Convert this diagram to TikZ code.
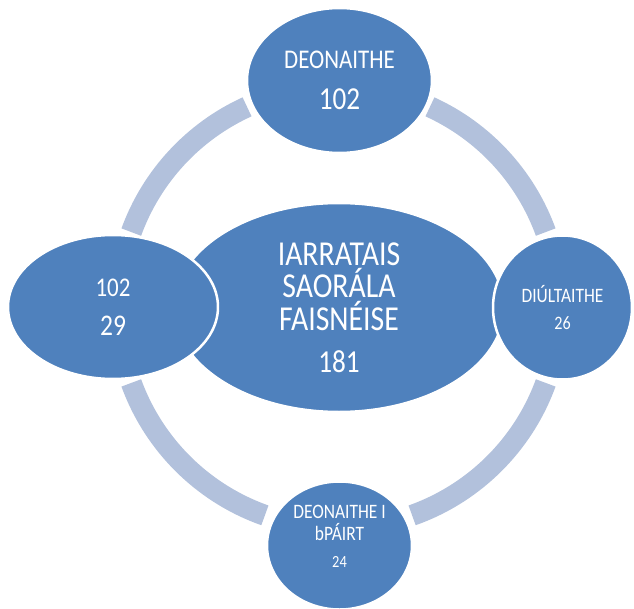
\documentclass[tikz,border=0pt]{standalone}
\usepackage{fontspec}
\setmainfont{Carlito}[FakeStretch=0.85]
\usetikzlibrary{shapes.geometric}
\definecolor{bubble}{RGB}{79,129,189}
\definecolor{ringblue}{RGB}{178,193,220}

\begin{document}
\begin{tikzpicture}[x=1pt,y=1pt,
  bub/.style={ellipse,fill=bubble,draw=white,line width=2.5pt,text=white,align=center,inner sep=0pt},
  ring/.style={draw=ringblue,line width=21pt}]
\useasboundingbox (-338.5,-300.5) rectangle (295.5,307.5);
\coordinate (o) at (0,0);
\draw[ring] (o) ++(20:220.5) arc[start angle=20,end angle=65.5,radius=220.5];
\draw[ring] (o) ++(114.5:220.5) arc[start angle=114.5,end angle=160,radius=220.5];
\draw[ring] (o) ++(200:220.5) arc[start angle=200,end angle=250.5,radius=220.5];
\draw[ring] (o) ++(289.5:220.5) arc[start angle=289.5,end angle=340,radius=220.5];
\node[bub,minimum width=330pt,minimum height=209pt,font=\fontsize{35}{32.5}\selectfont] (iarr) at (0.5,0)
  {IARRATAIS\\SAORÁLA\\FAISNÉISE\\[9.5pt]{\fontsize{32}{32}\selectfont 181}};
\node[bub,minimum width=185pt,minimum height=145pt,font=\fontsize{27}{41}\selectfont] (deon) at (1,227)
  {DEONAITHE\\{\fontsize{32}{41}\selectfont 102}};
\node[bub,minimum width=210pt,minimum height=144pt,font=\fontsize{27}{39}\selectfont] (eile) at (-225.5,0.5)
  {102\\{\fontsize{30}{39}\selectfont 29}};
\node[bub,minimum width=139pt,minimum height=144pt,font=\fontsize{20.5}{27.5}\selectfont] (diul) at (224,0)
  {DIÚLTAITHE\\{\fontsize{19}{27.5}\selectfont 26}};
\node[bub,minimum width=145pt,minimum height=128pt,font=\fontsize{20.5}{22}\selectfont] (pairt) at (1,-238)
  {DEONAITHE I\\bPÁIRT\\[4.5pt]{\fontsize{17}{22}\selectfont 24\rule[-18pt]{0pt}{0pt}}};
\end{tikzpicture}
\end{document}
